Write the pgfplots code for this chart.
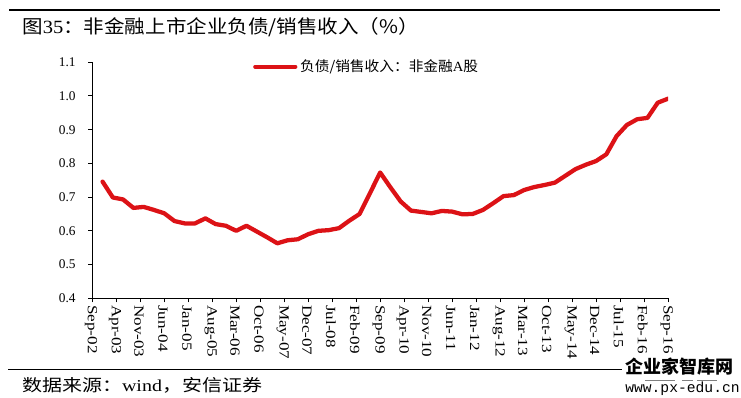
\documentclass[border=0pt]{standalone}
\usepackage{fontspec}
\setmainfont{Liberation Serif}
\setmonofont{Liberation Mono}
\newfontfamily\cjk{Noto Sans CJK SC}
\usepackage{pgfplots}
\pgfplotsset{compat=1.18}
\definecolor{linered}{RGB}{220,18,22}
\newcommand\xl[1]{\scalebox{1.22}[1]{#1}}
\begin{document}
\begin{tikzpicture}
\path[use as bounding box] (0,0) rectangle (555.75pt,298.5pt);
% header
\draw[line width=1.1pt] (6.75pt,291pt) -- (540pt,291pt);
\node[anchor=west, inner sep=0pt, font=\fontsize{14}{15}\selectfont] at (16.5pt,278.25pt) {\scalebox{1.1}[1]{\cjk 图{\rmfamily 35}：非金融上市企业负债/销售收入（\%）}};
\begin{axis}[
  at={(69.2pt,74.8pt)}, anchor=south west,
  scale only axis, width=431.8pt, height=177pt,
  xmin=0, xmax=168, ymin=0.4, ymax=1.1,
  axis lines=left, axis line style={-, line width=0.75pt},
  tick align=outside, xtick pos=left, ytick pos=left,
  major tick length=3pt, tick style={line width=0.75pt, black},
  xtick={0,7,...,168},
  xticklabels={\xl{Sep-02},\xl{Apr-03},\xl{Nov-03},\xl{Jun-04},\xl{Jan-05},\xl{Aug-05},\xl{Mar-06},\xl{Oct-06},\xl{May-07},\xl{Dec-07},\xl{Jul-08},\xl{Feb-09},\xl{Sep-09},\xl{Apr-10},\xl{Nov-10},\xl{Jun-11},\xl{Jan-12},\xl{Aug-12},\xl{Mar-13},\xl{Oct-13},\xl{May-14},\xl{Dec-14},\xl{Jul-15},\xl{Feb-16},\xl{Sep-16}},
  xticklabel style={rotate=-90, anchor=west, font=\fontsize{10.5}{11}\selectfont, inner sep=2pt, yshift=-1pt},
  ytick={0.4,0.5,...,1.1},
  yticklabel style={/pgf/number format/fixed, /pgf/number format/precision=1, /pgf/number format/fixed zerofill, font=\fontsize{10}{11}\selectfont, xshift=-6pt},
  /pgf/number format/assume math mode=true,
  legend style={at={(0.279,0.981)}, anchor=west, draw=none, fill=none, inner sep=0pt, font=\fontsize{10.5}{11}\selectfont},
  legend image code/.code={\draw[#1, line width=3.2pt] (0pt,0pt) -- (30pt,0pt);},
]
\addplot[linered, line width=3.2pt, line join=round, line cap=round] coordinates {
(3,0.746) (6,0.699) (9,0.693) (12,0.668) (15,0.671) (18,0.662) (21,0.652) (24,0.629)
(27,0.622) (30,0.622) (33,0.637) (36,0.620) (39,0.615) (42,0.600) (45,0.615) (48,0.598)
(51,0.581) (54,0.563) (57,0.572) (60,0.575) (63,0.590) (66,0.600) (69,0.602) (72,0.608)
(75,0.630) (78,0.650) (81,0.711) (84,0.773) (87,0.729) (90,0.687) (93,0.660) (96,0.656)
(99,0.652) (102,0.659) (105,0.657) (108,0.649) (111,0.650) (114,0.662) (117,0.682) (120,0.703)
(123,0.706) (126,0.721) (129,0.730) (132,0.736) (135,0.743) (138,0.763) (141,0.783) (144,0.796)
(147,0.807) (150,0.827) (153,0.881) (156,0.914) (159,0.931) (162,0.935) (165,0.980) (168,0.992)
};
\addlegendentry{\scalebox{1.05}[1]{\cjk 负债/销售收入：非金融{\rmfamily A}股}}
\end{axis}
% footer
\draw[line width=1.1pt] (6pt,21.5pt) -- (466.5pt,21.5pt);
\node[anchor=west, inner sep=0pt, font=\fontsize{12.5}{13}\selectfont] at (16.3pt,9.75pt) {\scalebox{1.2}[1]{\cjk 数据来源：{\rmfamily wind}，安信证券}};
\node[anchor=west, inner sep=0pt, font=\cjk\bfseries\fontsize{13.5}{14}\selectfont] at (468.75pt,23.5pt) {企业家智库网};
\draw[gray, line width=1pt] (483.75pt,12.9pt) -- (506.25pt,12.9pt);
\draw[gray, line width=1pt] (511.5pt,12.9pt) -- (519.75pt,12.9pt);
\draw[gray, line width=1pt] (522.75pt,12.9pt) -- (537.75pt,12.9pt);
\node[anchor=west, inner sep=0pt, font=\ttfamily\fontsize{11}{12}\selectfont] at (468.75pt,6.75pt) {www.px-edu.cn};
\end{tikzpicture}
\end{document}
